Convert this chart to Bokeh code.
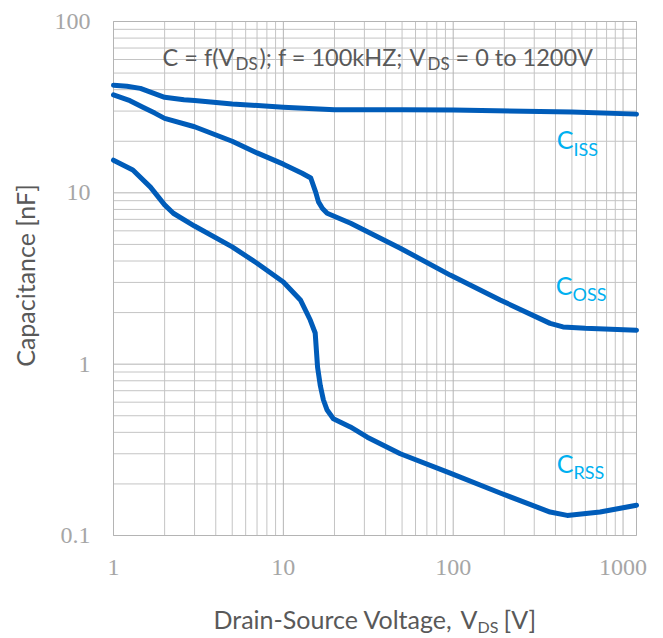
import math
from bokeh.plotting import figure
from bokeh.models import Label, BoxAnnotation
from bokeh.embed import file_html
from bokeh.resources import INLINE

# ---- data ----
ciss_v = [1, 1.2, 1.44, 2, 2.6, 3, 5, 10, 20, 50, 100, 500, 1200]
ciss_c = [42.5, 41.9, 40.7, 36.1, 34.9, 34.6, 33.0, 31.6, 30.5, 30.5, 30.4, 29.6, 28.8]

coss_v = [1, 1.25, 1.5, 1.75, 2, 3, 5, 7, 10, 12.9, 14.5, 15.5, 16.1, 17, 18.1, 24.9, 48.8, 96, 189, 372, 443, 600, 1200]
coss_c = [37.3, 34.5, 31.5, 29.2, 27.2, 24.3, 20.0, 17.1, 14.7, 13.0, 12.2, 10.1, 8.86, 8.1, 7.6, 6.65, 4.75, 3.31, 2.37, 1.73, 1.65, 1.62, 1.58]

crss_v = [1, 1.3, 1.65, 2, 2.25, 3, 5, 7, 10, 12.6, 14.4, 15.4, 15.9, 16.5, 17.2, 18.1, 19.7, 24.8, 31.2, 48.8, 96, 189, 372, 469, 732, 1200]
crss_c = [15.5, 13.6, 10.8, 8.5, 7.6, 6.4, 4.84, 3.88, 3.02, 2.37, 1.81, 1.52, 0.96, 0.75, 0.62, 0.54, 0.48, 0.43, 0.375, 0.30, 0.231, 0.177, 0.137, 0.131, 0.137, 0.150]

x_lim = [1, 1200]
y_lim = [0.1, 100]
x_major = [1, 10, 100, 1000]
x_major_labels = ["1", "10", "100", "1000"]
y_major = [0.1, 1, 10, 100]
y_major_labels = ["0.1", "1", "10", "100"]
x_minor = [m * d for d in (1, 10, 100, 1000) for m in range(2, 10) if m * d <= 1200]
y_minor = [m * d for d in (0.1, 1, 10) for m in range(2, 10)]

# ---- layout (pixels in the canvas) ----
W, H = 663, 638
PL, PR, PT, PB = 113, 636, 21, 535
dx = (PR - PL) / math.log10(x_lim[1] / x_lim[0])
dy = (PB - PT) / math.log10(y_lim[1] / y_lim[0])
x_range = (x_lim[0] * 10 ** (-PL / dx), x_lim[0] * 10 ** ((W - PL) / dx))
y_range = (y_lim[0] * 10 ** (-(H - PB) / dy), y_lim[1] * 10 ** (PT / dy))
BASE_K = 0.36  # empirical baseline correction (fraction of font size)

FONT = "Lato"
BLUE = "#005CB9"
CYAN = "#00B0F0"
MAJ = "#B4B4B4"
MIN = "#C4C4C4"
TICK = "#A6A6A6"
TEXT = "#595959"
TICK_SIZE = 24

p = figure(width=W, height=H, x_axis_type="log", y_axis_type="log",
           x_range=x_range, y_range=y_range,
           x_axis_location=None, y_axis_location=None,
           output_backend="svg", toolbar_location=None, min_border=0)
p.background_fill_color = "white"
p.border_fill_color = "white"
p.outline_line_color = None
p.xgrid.visible = False
p.ygrid.visible = False

# grid lines
p.segment(x0=x_minor, x1=x_minor, y0=[y_lim[0]] * len(x_minor), y1=[y_lim[1]] * len(x_minor),
          line_color=MIN, line_width=1)
p.segment(x0=[x_lim[0]] * len(y_minor), x1=[x_lim[1]] * len(y_minor), y0=y_minor, y1=y_minor,
          line_color=MIN, line_width=1)
p.segment(x0=x_major, x1=x_major, y0=[y_lim[0]] * len(x_major), y1=[y_lim[1]] * len(x_major),
          line_color=MAJ, line_width=1)
p.segment(x0=[x_lim[0]] * len(y_major), x1=[x_lim[1]] * len(y_major), y0=y_major, y1=y_major,
          line_color=MAJ, line_width=1)
p.quad(left=[x_lim[0]], right=[x_lim[1]], bottom=[y_lim[0]], top=[y_lim[1]],
       fill_color=None, line_color=MAJ, line_width=1)

# title box covering the grid
p.add_layout(BoxAnnotation(left=143, right=619, top=H - 27, bottom=H - 80,
                           left_units="screen", right_units="screen",
                           top_units="screen", bottom_units="screen",
                           fill_color="white", fill_alpha=1.0, line_color=None, level="underlay"))

# curves
for xs, ys in ((ciss_v, ciss_c), (coss_v, coss_c), (crss_v, crss_c)):
    p.line(x=xs, y=ys, line_color=BLUE, line_width=5, line_join="round", line_cap="round")

# tick labels
p.text(x=x_major, y=[y_lim[0]] * len(x_major), text=x_major_labels,
       y_offset=(576 - PB) - BASE_K * TICK_SIZE,
       text_align="center", text_baseline="alphabetic", text_font=FONT,
       text_font_size=f"{TICK_SIZE}px", text_color=TICK)
p.text(x=[x_lim[0]] * len(y_major), y=y_major, text=y_major_labels,
       x_offset=-23, y_offset=8.5 - BASE_K * TICK_SIZE,
       text_align="right", text_baseline="alphabetic", text_font=FONT,
       text_font_size=f"{TICK_SIZE}px", text_color=TICK)


def lab(txt, x, base_py, size, color, align="left"):
    p.add_layout(Label(x=x, y=H - base_py + BASE_K * size, x_units="screen", y_units="screen",
                       text=txt, text_font=FONT, text_font_size=f"{size}px", text_color=color,
                       text_align=align, text_baseline="alphabetic", level="overlay"))


# title pieces (baseline in canvas pixels from the top)
lab("C = f(V", 234, 65, 23.5, TEXT, align="right")
lab("DS", 235, 69, 17, TEXT)
lab("); f = 100kHZ;", 259, 65, 23.5, TEXT)
lab("V", 409, 65, 23.5, TEXT)
lab("DS", 427, 69, 17, TEXT)
lab("= 0 to 1200V", 455, 65, 23.5, TEXT)

# curve labels
lab("C", 573, 147, 25, CYAN, align="right")
lab("ISS", 573, 155, 18, CYAN)
lab("C", 572, 293, 25, CYAN, align="right")
lab("OSS", 572, 300, 18, CYAN)
lab("C", 573, 471, 25, CYAN, align="right")
lab("RSS", 573, 478, 18, CYAN)

# axis titles
p.add_layout(Label(x=24, y=H - 275, x_units="screen", y_units="screen", text="Capacitance [nF]",
                   text_font=FONT, text_font_size="25px", text_color=TEXT, angle=math.pi / 2,
                   text_align="center", text_baseline="middle", level="overlay"))
lab("Drain-Source Voltage,", 213, 627, 25, TEXT)
lab("V", 460, 627, 25, TEXT)
lab("DS", 477, 632, 16, TEXT)
lab("[V]", 503, 627, 25, TEXT)

open("out.html", "w").write(file_html(p, INLINE))
